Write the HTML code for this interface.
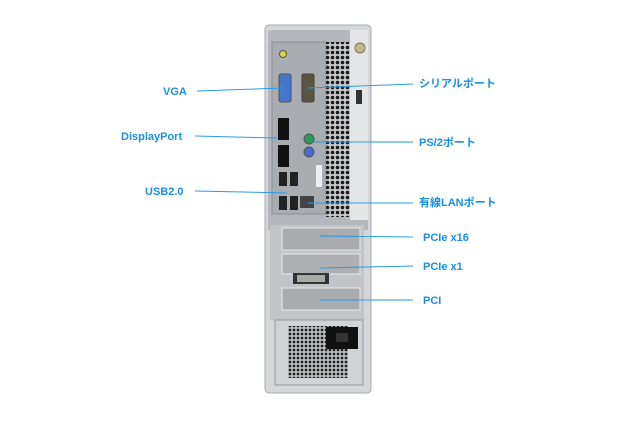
<!DOCTYPE html>
<html><head><meta charset="utf-8"><style>
body{margin:0;background:#fff;width:640px;height:426px;overflow:hidden;font-family:"Liberation Sans","Noto Sans CJK JP",sans-serif}
svg{position:absolute;left:0;top:0}
text{font-weight:bold;font-size:11px;fill:#1a8fe0}
</style></head><body>
<svg width="640" height="426" viewBox="0 0 640 426">
<defs>
<pattern id="hex" width="5" height="5" patternUnits="userSpaceOnUse"><rect width="5" height="5" fill="#c8cacc"/><circle cx="2.5" cy="2.5" r="1.8" fill="#1a1a1a"/></pattern>
<pattern id="hex2" width="4" height="4" patternUnits="userSpaceOnUse"><rect width="4" height="4" fill="#bfc1c3"/><circle cx="2" cy="2" r="1.4" fill="#222"/></pattern>
</defs>
<!-- case -->
<rect x="265" y="25" width="106" height="368" rx="4" fill="#d4d6da" stroke="#a8aaae"/>
<rect x="268" y="30" width="100" height="200" fill="#b4b7bb"/>
<rect x="272" y="42" width="54" height="172" fill="#a9acb0" stroke="#8c8f93"/>
<rect x="326" y="42" width="24" height="175" fill="url(#hex)"/>
<rect x="350" y="30" width="18" height="190" fill="#e4e5e7"/>
<rect x="356" y="90" width="6" height="14" fill="#333"/>
<circle cx="360" cy="48" r="5" fill="#c9b98a" stroke="#776"/>
<!-- ports -->
<circle cx="283" cy="54" r="3.5" fill="#d8d63a" stroke="#555"/>
<rect x="279" y="74" width="12" height="28" rx="2" fill="#4477cc" stroke="#555"/>
<rect x="302" y="74" width="12" height="28" rx="2" fill="#5a5540" stroke="#444"/>
<rect x="278" y="118" width="11" height="22" fill="#111"/>
<rect x="278" y="145" width="11" height="22" fill="#111"/>
<circle cx="309" cy="139" r="5" fill="#2a9a5a" stroke="#555"/>
<circle cx="309" cy="152" r="5" fill="#4a6ad0" stroke="#555"/>
<rect x="316" y="165" width="6" height="22" fill="#eee"/>
<rect x="279" y="172" width="8" height="14" fill="#222"/><rect x="290" y="172" width="8" height="14" fill="#222"/>
<rect x="279" y="196" width="8" height="14" fill="#222"/><rect x="290" y="196" width="8" height="14" fill="#222"/>
<rect x="300" y="196" width="14" height="12" fill="#444"/>
<!-- slots -->
<rect x="270" y="225" width="94" height="95" fill="#c2c4c7"/>
<rect x="282" y="228" width="78" height="22" fill="#a9abaf" stroke="#e8e8e8"/>
<rect x="282" y="254" width="78" height="20" fill="#aeb0b3" stroke="#e8e8e8"/>
<rect x="293" y="273" width="36" height="11" fill="#333"/><rect x="297" y="275" width="28" height="7" fill="#aaa"/>
<rect x="282" y="288" width="78" height="22" fill="#a9abaf" stroke="#e8e8e8"/>
<!-- psu -->
<rect x="275" y="320" width="88" height="65" fill="#d0d2d5" stroke="#999"/>
<rect x="288" y="326" width="60" height="52" fill="url(#hex2)"/>
<rect x="326" y="327" width="32" height="22" fill="#111"/>
<rect x="336" y="333" width="12" height="9" fill="#333"/>
<!-- lines -->
<g stroke="#2a9be8" stroke-width="1">
<line x1="197" y1="91" x2="283" y2="88"/>
<line x1="195" y1="136" x2="277" y2="138"/>
<line x1="195" y1="191" x2="287" y2="193"/>
<line x1="308" y1="88" x2="413" y2="84"/>
<line x1="313" y1="142" x2="413" y2="142"/>
<line x1="308" y1="203" x2="413" y2="203"/>
<line x1="320" y1="236" x2="413" y2="237"/>
<line x1="320" y1="268" x2="413" y2="266"/>
<line x1="320" y1="300" x2="413" y2="300"/>
</g>
<text x="163" y="95">VGA</text>
<text x="121" y="140">DisplayPort</text>
<text x="145" y="195">USB2.0</text>
<text x="419" y="87">シリアルポート</text>
<text x="419" y="146">PS/2ポート</text>
<text x="419" y="206">有線LANポート</text>
<text x="423" y="241">PCIe x16</text>
<text x="423" y="270">PCIe x1</text>
<text x="423" y="304">PCI</text>
</svg>
</body></html>
